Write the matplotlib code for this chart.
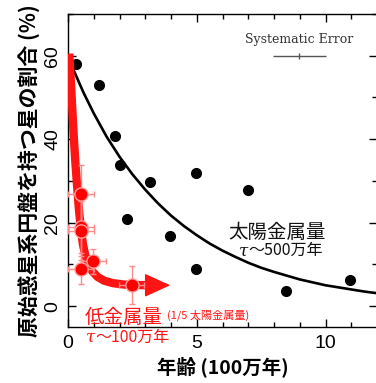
import numpy as np
import matplotlib
matplotlib.use('Agg')
import matplotlib.pyplot as plt
from matplotlib.ticker import MultipleLocator

plt.rcParams['font.family'] = ['Noto Sans CJK JP', 'DejaVu Sans']

# solar metallicity clusters (age in Myr/100, disk fraction %)
solar_age = [0.31, 1.21, 1.81, 2.01, 3.19, 4.97, 2.31, 3.98, 6.98, 4.98, 8.46, 10.95]
solar_frac = [57.9, 52.9, 40.8, 33.8, 29.8, 31.8, 20.9, 16.9, 27.9, 8.8, 3.6, 6.2]

# fit curve (tau ~ 5 Myr)
solar_fit_x = [0.2, 0.6, 1.0, 1.5, 2.0, 2.5, 3.0, 3.5, 4.0, 4.5, 5.0, 5.5, 6.0,
               6.5, 7.0, 7.5, 8.0, 8.5, 9.0, 9.5, 10.0, 10.5, 11.0, 11.5, 12.0]
solar_fit_y = [56.8, 51.2, 46.2, 40.6, 35.8, 31.6, 27.9, 24.6, 21.7, 19.2, 17.0, 15.0, 13.3,
               11.8, 10.4, 9.2, 8.2, 7.3, 6.4, 5.7, 5.0, 4.5, 4.0, 3.5, 3.1]

# low metallicity clusters
low_age = [0.51, 0.51, 0.51, 0.99, 0.51, 2.47]
low_frac = [26.8, 18.9, 18.1, 10.8, 9.0, 5.0]
low_xerr = [0.5, 0.5, 0.5, 0.48, 0.5, 0.5]
low_yerr = [7.0, 7.0, 7.0, 3.0, 3.8, 4.6]

# hand drawn trend (tau ~ 1 Myr)
low_trend_x = [0.05, 0.10, 0.16, 0.22, 0.28, 0.35, 0.42, 0.50, 0.58, 0.68, 0.80, 0.95,
               1.15, 1.4, 1.75, 2.2, 3.1]
low_trend_y = [60.5, 55.0, 48.0, 41.0, 35.0, 29.0, 23.5, 18.5, 14.8, 12.0, 9.9, 8.3,
               7.0, 6.1, 5.5, 5.15, 5.0]
arrow_start = (3.0, 5.0)
arrow_end = (3.97, 5.0)

# systematic error bar
sys_x, sys_y, sys_xerr = 8.98, 60.0, 1.03

red = '#ff1414'
pink = '#ff8a8a'
tick_font = 'Liberation Sans'

fig = plt.figure(figsize=(3.76, 3.83), dpi=100)
ax = fig.add_axes([68/376, 56/383, 309/376, 313/383])

ax.plot(solar_fit_x, solar_fit_y, color='black', lw=1.9, zorder=2)
ax.plot(solar_age, solar_frac, 'o', color='black', ms=7, zorder=3)

ax.plot(low_trend_x, low_trend_y, color=red, lw=6, solid_capstyle='butt',
        solid_joinstyle='round', zorder=3)
ax.annotate('', xy=arrow_end, xytext=arrow_start,
            arrowprops=dict(arrowstyle='-|>,head_length=1.65,head_width=0.75', mutation_scale=10,
                            color=red, lw=1, shrinkA=0, shrinkB=0), zorder=3)
ax.errorbar(low_age, low_frac, xerr=low_xerr, yerr=low_yerr, fmt='none', ecolor=pink,
            elinewidth=1, capsize=2, zorder=4)
ax.plot(low_age, low_frac, 'o', color='#ff0000', mec='#ffa0a0', mew=1, ms=9.5, zorder=5)

ax.errorbar([sys_x], [sys_y], xerr=[sys_xerr], fmt='|', color='#555555', ms=5, elinewidth=1, mew=1)
ax.text(sys_x, 63.8, 'Systematic Error', family='DejaVu Serif', fontsize=9, color='#333333',
        ha='center', va='center')

ax.text(8.1, 17.7, '太陽金属量', fontsize=14, color='#111111', ha='center', va='center')
ax.text(7.0, 13.3, 'τ', fontsize=12, family='DejaVu Serif', style='italic', color='#111111',
        ha='right', va='center')
ax.text(7.0, 13.3, '～500万年', fontsize=11.5, color='#111111', ha='left', va='center')

ax.text(2.16, -2.6, '低金属量', fontsize=14, color=red, ha='center', va='center', clip_on=False)
ax.text(3.85, -2.2, '(1/5 太陽金属量)', fontsize=8, color=red, ha='left', va='center')
ax.text(1.05, -7.4, 'τ', fontsize=12, family='DejaVu Serif', style='italic', color=red,
        ha='right', va='center', clip_on=False)
ax.text(1.05, -7.4, '～100万年', fontsize=11.5, color=red, ha='left', va='center', clip_on=False)

ax.set_xlim(0, 12)
ax.set_ylim(-5, 70)
ax.xaxis.set_major_locator(MultipleLocator(5))
ax.xaxis.set_minor_locator(MultipleLocator(1))
ax.yaxis.set_major_locator(MultipleLocator(20))
ax.yaxis.set_minor_locator(MultipleLocator(10))
ax.tick_params(which='both', direction='in', top=True, right=True, width=1, labelsize=14,
               labelfontfamily=tick_font)
ax.tick_params(which='major', length=6)
ax.tick_params(which='minor', length=3.5)
ax.tick_params(axis='x', pad=6)
ax.tick_params(axis='y', pad=5, labelrotation=90)
for lab in ax.get_yticklabels():
    lab.set_va('center')
for s in ax.spines.values():
    s.set_linewidth(1)

ax.set_xlabel('年齢 (100万年)', fontsize=14, fontweight='bold', labelpad=3)
ax.set_ylabel('原始惑星系円盤を持つ星の割合 (%)', fontsize=15, fontweight='bold', labelpad=3)

fig.savefig('out.png', dpi=100)
